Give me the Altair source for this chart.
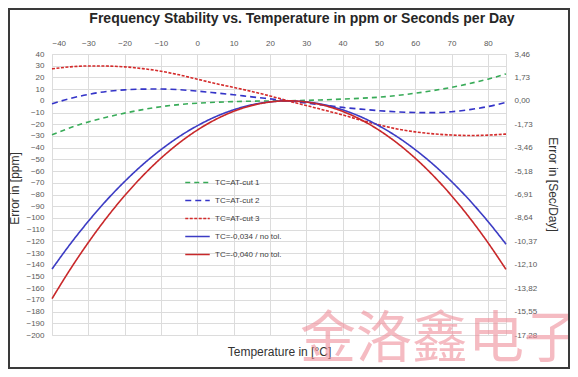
import altair as alt
import pandas as pd

# ---- data ----
temps = [-40, -35, -30, -25, -20, -15, -10, -5, 0, 5, 10, 15, 20, 25,
         30, 35, 40, 45, 50, 55, 60, 65, 70, 75, 80, 85]

at_cut_1 = [-29, -23, -18, -14, -10.5, -7.5, -5, -3.2, -2, -1.2, -0.7, -0.3, -0.1, 0,
            0.4, 0.9, 1.5, 2.2, 3.1, 4.6, 6.5, 8.8, 11.5, 14.8, 18.5, 23]
at_cut_2 = [-2.5, 2, 5.5, 8, 9.4, 10, 10.1, 9.5, 8.3, 6.8, 5.2, 3.4, 1.7, 0,
            -1.8, -3.8, -5.6, -7.1, -8.4, -9.4, -10, -10.1, -9.3, -7.5, -4.9, -1.4]
at_cut_3 = [27.3, 29, 29.8, 29.7, 29, 27.5, 25.3, 22.2, 18.5, 14.8, 11.5, 8, 4.2, 0,
            -4, -8, -12, -16.5, -20.5, -24, -26.5, -28.2, -29.2, -29.6, -29.3, -28.4]
tc_034 = [-143.7, -122.4, -102.9, -85, -68.9, -54.4, -41.7, -30.6, -21.3, -13.6, -7.7, -3.4, -0.9, 0,
          -0.9, -3.4, -7.7, -13.6, -21.3, -30.6, -41.7, -54.4, -68.9, -85, -102.9, -122.4]
tc_040 = [-169, -144, -121, -100, -81, -64, -49, -36, -25, -16, -9, -4, -1, 0,
          -1, -4, -9, -16, -25, -36, -49, -64, -81, -100, -121, -144]

series = ["TC=AT-cut 1", "TC=AT-cut 2", "TC=AT-cut 3",
          "TC=-0,034 / no tol.", "TC=-0,040 / no tol."]
series_values = [at_cut_1, at_cut_2, at_cut_3, tc_034, tc_040]

x_ticks = [-40, -30, -20, -10, 0, 10, 20, 30, 40, 50, 60, 70, 80]
ppm_ticks = [40, 30, 20, 10, 0, -10, -20, -30, -40, -50, -60, -70, -80, -90, -100,
             -110, -120, -130, -140, -150, -160, -170, -180, -190, -200]
sec_ticks = [40, 20, 0, -20, -40, -60, -80, -100, -120, -140, -160, -180, -200]
sec_labels = ["3,46", "1,73", "0,00", "-1,73", "-3,46", "-5,18", "-6,91", "-8,64",
              "-10,37", "-12,10", "-13,82", "-15,55", "-17,28"]

title_text = "Frequency Stability vs. Temperature in ppm or Seconds per Day"
watermark = "金洛鑫电子"

# ---- styles ----
colors = ["#38ab58", "#3434c8", "#d42b2b", "#3c3cc4", "#c8282a"]
dashes = [[5, 4], [6, 4], [3, 1.5], [1, 0], [1, 0]]

rows = [{"temp": t, "ppm": v, "series": s}
        for s, vals in zip(series, series_values)
        for t, v in zip(temps, vals)]
df = pd.DataFrame(rows)

label_expr = " : ".join(
    f"datum.value == {v} ? '{l}'" for v, l in zip(sec_ticks, sec_labels)) + " : ''"

FONT = "Liberation Sans"
x_scale = alt.Scale(domain=[-40, 85], nice=False, zero=False)
y_scale = alt.Scale(domain=[-200, 40], nice=False, zero=False)

legend = alt.Legend(
    title=None, orient="none", legendX=132, legendY=115, direction="vertical",
    symbolType="stroke", symbolSize=600, symbolStrokeWidth=1.6,
    labelFontSize=8, labelColor="#404040", labelFont=FONT, rowPadding=0,
)

lines = alt.Chart(df).mark_line(strokeWidth=1.6, interpolate="monotone").encode(
    x=alt.X("temp:Q", scale=x_scale, axis=alt.Axis(
        orient="top", values=x_ticks, title=None, grid=True, ticks=False, domain=False,
        labelPadding=7, labelFontSize=8, labelColor="#595959", labelFont=FONT,
        gridColor="#dcdcdc")),
    y=alt.Y("ppm:Q", scale=y_scale, axis=alt.Axis(
        orient="left", values=ppm_ticks, title="Error in [ppm]", grid=True, ticks=False,
        domain=False, labelPadding=8, labelFontSize=8, labelColor="#595959", labelFont=FONT,
        gridColor="#dcdcdc", titleFontSize=12, titleFont=FONT, titleFontWeight="normal",
        titleColor="#333333", titlePadding=4, titleY=134)),
    color=alt.Color("series:N", scale=alt.Scale(domain=series, range=colors),
                    sort=series, legend=legend),
    strokeDash=alt.StrokeDash("series:N", scale=alt.Scale(domain=series, range=dashes),
                              sort=series, legend=legend),
)

right = alt.Chart(df).mark_line(opacity=0).encode(
    x=alt.X("temp:Q", scale=x_scale, axis=alt.Axis(
        orient="bottom", labels=False, ticks=False, domain=False, grid=False,
        title="Temperature in [°C]", titleFontSize=12, titleFont=FONT,
        titleFontWeight="normal", titleColor="#333333", titlePadding=11)),
    y=alt.Y("ppm:Q", scale=y_scale, axis=alt.Axis(
        orient="right", values=sec_ticks, labelExpr=label_expr, grid=False, ticks=False,
        domain=False, labelPadding=8, labelFontSize=8, labelColor="#595959", labelFont=FONT,
        title="Error in [Sec/Day]", titleFontSize=12, titleFont=FONT,
        titleFontWeight="normal", titleColor="#333333", titlePadding=9, titleY=130)),
    detail="series:N",
)

one = pd.DataFrame({"k": [0]})
frame = alt.Chart(one).mark_rect(filled=False, stroke="#3a3a3a", strokeWidth=2).encode(
    x=alt.value(-43), x2=alt.value(517), y=alt.value(-45), y2=alt.value(314))

wm = alt.Chart(one).mark_text(
    text=watermark, font="Noto Sans CJK SC", fontSize=56, color="#ef8f9a",
    opacity=0.6, align="center", baseline="top").encode(
    x=alt.value(388), y=alt.value(259))

chart = alt.layer(lines, right, wm, frame).resolve_scale(
    x="independent", y="independent", color="shared", strokeDash="shared"
).properties(
    width=454, height=281,
    autosize=alt.AutoSizeParams(type="none"),
    padding={"left": 44, "top": 46, "right": 64, "bottom": 34},
    title=alt.TitleParams(title_text, font=FONT, fontSize=14, fontWeight="bold",
                          color="#262626", anchor="middle", dx=23, offset=-18),
).configure_view(stroke="#cfcfcf", strokeWidth=1).configure(background="white")

chart.save("out.html", embed_options={"renderer": "svg", "actions": False})
